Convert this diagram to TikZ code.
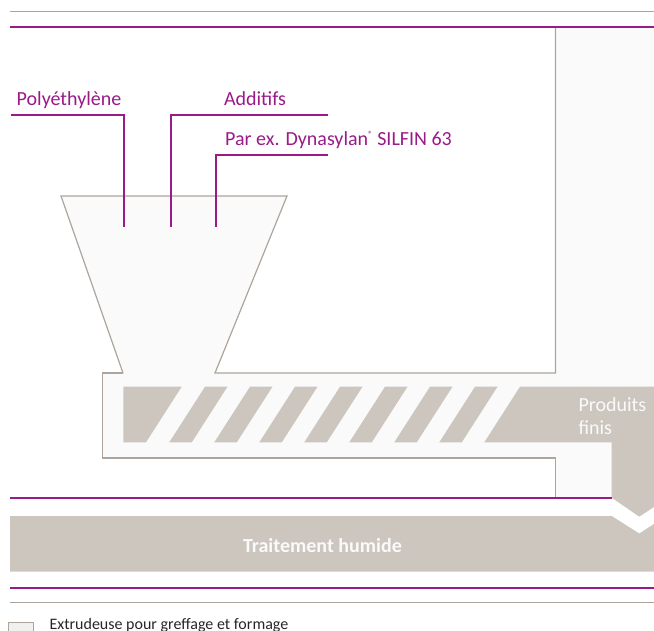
\documentclass[tikz,border=0pt]{standalone}
\usepackage{fontspec}
\setmainfont{Carlito}
\definecolor{evpurple}{HTML}{9A1A88}
\definecolor{evline}{HTML}{ADA59C}
\definecolor{evgray}{HTML}{CCC6BF}
\definecolor{evlight}{HTML}{FAFAFA}
\definecolor{evlegend}{HTML}{F2F0EE}
\begin{document}
\begin{tikzpicture}[x=1pt,y=-1pt,
  outl/.style={color=evline,line width=1.2pt},
  leader/.style={color=evpurple,line width=2pt},
  prule/.style={color=evpurple,line width=2pt},
  grule/.style={color=evline,line width=1.4pt},
  lbl/.style={anchor=base west,inner sep=0pt,text=evpurple,font=\fontsize{20}{24}\selectfont},
  wlbl/.style={anchor=base west,inner sep=0pt,text=evlight,font=\fontsize{20}{24}\selectfont},
  screw/.style={fill=evgray}]
\useasboundingbox (0,0) rectangle (654,631);
% light fill of hopper, extruder and right panel
\fill[evlight] (61,196) -- (287,196) -- (215,373) -- (555,373) -- (555,28) -- (654,28) -- (654,497.5) -- (555,497.5) -- (555,458) -- (102,458) -- (102,373) -- (123,373) -- cycle;
% outlines
\draw[outl] (123,373) -- (61,196) -- (287,196) -- (215,373) -- (555.5,373) -- (555.5,27.5);
\draw[outl] (123,373) -- (102.5,373) -- (102.5,458) -- (555.5,458) -- (555.5,497.5);
% screw
\fill[screw] (123.3,386.7) -- (181.7,386.7) -- (146,442.3) -- (123.3,442.3) -- cycle;
\foreach \i in {0,...,6}
  \fill[screw] ({205+45*\i},386.7) -- ++(22.5,0) -- ++(-35.7,55.6) -- ++(-22.5,0) -- cycle;
\fill[screw] (520,386.7) -- (654,386.7) -- (654,507) -- (639.3,516.7) -- (611.7,497.7) -- (611.7,442.3) -- (484.3,442.3) -- cycle;
% wet treatment band
\fill[evgray] (10,516) -- (611.7,516) -- (639.3,533.5) -- (654,524) -- (654,571.7) -- (10,571.7) -- cycle;
% rules
\draw[grule] (10,11.3) -- (654,11.3);
\draw[prule] (10,27.5) -- (654,27.5);
\draw[prule] (10,497.5) -- (611.7,497.5);
\draw[prule] (10,587.5) -- (654,587.5);
\draw[grule] (10,602.5) -- (654,602.5);
% labels
\node[lbl] (poly) at (16.5,106) {Polyéthylène};
\node[lbl] (add) at (223.8,106) {Additifs};
\node[lbl] (silfin) at (225,146) {Par ex. Dynasylan\raisebox{0.42em}{\fontsize{9}{9}\selectfont ®} SILFIN 63};
\coordinate (polyS) at (11,115.5);
\coordinate (polyE) at (123.5,226.7);
\coordinate (addS) at (328,115.5);
\coordinate (addE) at (170.5,226.7);
\coordinate (silS) at (328,155.5);
\coordinate (silE) at (215.5,226.7);
\draw[leader] (polyS) -| (polyE);
\draw[leader] (addS) -| (addE);
\draw[leader] (silS) -| (silE);
\node[wlbl] (prod) at (578.3,411) {Produits};
\node[wlbl] (finis) at (578.3,434.3) {finis};
\node[anchor=base,inner sep=0pt,text=evlight,font=\bfseries\fontsize{20}{24}\selectfont] (wet) at (322.5,552.7) {Traitement humide};
% legend
\node[draw=evline,line width=1pt,fill=evlegend,minimum width=25pt,minimum height=20pt,inner sep=0pt,anchor=north west] (legbox) at (8.3,622.3) {};
\node[anchor=base west,inner sep=0pt,text=black!85,font=\fontsize{16}{19}\selectfont] (legtext) at (49.3,629) {Extrudeuse pour greffage et formage};
\end{tikzpicture}
\end{document}
